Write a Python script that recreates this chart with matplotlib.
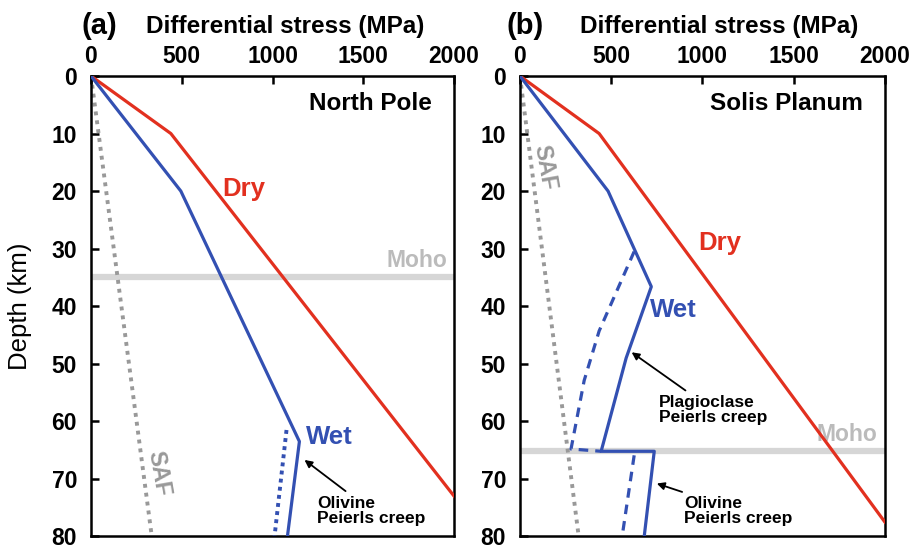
import numpy as np
import matplotlib.pyplot as plt

plt.rcParams['font.family'] = ['Liberation Sans', 'DejaVu Sans']
plt.rcParams['font.weight'] = 'bold'

RED = '#e2301f'
BLUE = '#3350b2'
GRAY = '#999999'
MOHO_C = '#d6d6d6'

# panel (a) North Pole
a_dry_s = [0, 440, 2000]
a_dry_z = [0, 10, 73]
a_wet_s = [0, 495, 1148, 1082]
a_wet_z = [0, 20, 63.5, 80]
a_wetdot_s = [1077, 1011]
a_wetdot_z = [61.5, 80]
a_saf_s = [0, 335]
a_saf_z = [0, 80]
a_moho = 35

# panel (b) Solis Planum
b_dry_s = [0, 434, 2000]
b_dry_z = [0, 10, 77.5]
b_wet_s = [0, 483, 720, 582, 445, 736, 681]
b_wet_z = [0, 20, 36.6, 49, 65.2, 65.2, 80]
b_wetdash_s = [626, 434, 352, 280, 445]
b_wetdash_z = [30.5, 44.3, 52.9, 64.8, 65.2]
b_wetdash2_s = [626, 560]
b_wetdash2_z = [65.9, 80]
b_saf_s = [0, 322]
b_saf_z = [0, 80]
b_moho = 65.2

xticks = [0, 500, 1000, 1500, 2000]
yticks = [0, 10, 20, 30, 40, 50, 60, 70, 80]

fig = plt.figure(figsize=(9.17, 5.49), dpi=100)
axa = fig.add_axes([0.0992, 0.0228, 0.396, 0.8388])
axb = fig.add_axes([0.567, 0.0228, 0.398, 0.8388])

for ax, moho in ((axa, a_moho), (axb, b_moho)):
    ax.set_xlim(0, 2000)
    ax.set_ylim(80, 0)
    ax.xaxis.tick_top()
    ax.set_xticks(xticks)
    ax.set_yticks(yticks)
    ax.tick_params(direction='in', length=6, width=1.8, labelsize=16.5)
    ax.tick_params(axis='x', pad=6)
    ax.tick_params(axis='y', pad=10)
    for s in ax.spines.values():
        s.set_linewidth(1.8)
    ax.axhline(moho, color=MOHO_C, lw=4.5, zorder=1)
    ax.text(1960, moho - 0.9, 'Moho', color='#bbbbbb', fontsize=16.5,
            ha='right', va='bottom')

lw = 2.3
arrow = dict(arrowstyle='-|>', color='black', lw=1.3, mutation_scale=11,
             shrinkA=2, shrinkB=0)
# (a)
axa.plot(a_saf_s, a_saf_z, color=GRAY, lw=2.8, ls=(0, (1, 1.3)), zorder=2)
axa.plot(a_dry_s, a_dry_z, color=RED, lw=lw, zorder=3)
axa.plot(a_wet_s, a_wet_z, color=BLUE, lw=lw, zorder=3)
axa.plot(a_wetdot_s, a_wetdot_z, color=BLUE, lw=2.8, ls=(0, (1, 1.1)), zorder=3)
axa.text(1875, 4.7, 'North Pole', fontsize=17.5, ha='right', va='center')
axa.text(840, 19.7, 'Dry', color=RED, fontsize=18.5, ha='center', va='center')
axa.text(1185, 62.8, 'Wet', color=BLUE, fontsize=18.5, ha='left', va='center')
axa.text(375, 69, 'SAF', color=GRAY, fontsize=16.5, rotation=-80,
         ha='center', va='center')
axa.annotate('Olivine\nPeierls creep', xy=(1176, 66.7), xytext=(1245, 75.5),
             fontsize=12.5, ha='left', va='center', linespacing=1.0,
             arrowprops=arrow)
axa.set_ylabel('Depth (km)', fontsize=18.5)
axa.yaxis.set_label_coords(-0.162, 0.5)

# (b)
axb.plot(b_saf_s, b_saf_z, color=GRAY, lw=2.8, ls=(0, (1, 1.3)), zorder=2)
axb.plot(b_dry_s, b_dry_z, color=RED, lw=lw, zorder=3)
axb.plot(b_wet_s, b_wet_z, color=BLUE, lw=lw, zorder=3)
axb.plot(b_wetdash_s, b_wetdash_z, color=BLUE, lw=lw, ls=(0, (3, 2.2)), zorder=3)
axb.plot(b_wetdash2_s, b_wetdash2_z, color=BLUE, lw=lw, ls=(0, (3, 2.2)), zorder=3)
axb.text(1880, 4.7, 'Solis Planum', fontsize=17.5, ha='right', va='center')
axb.text(1093, 29, 'Dry', color=RED, fontsize=18.5, ha='center', va='center')
axb.text(712, 40.7, 'Wet', color=BLUE, fontsize=18.5, ha='left', va='center')
axb.text(137, 15.8, 'SAF', color=GRAY, fontsize=16.5, rotation=-80,
         ha='center', va='center')
axb.annotate('Plagioclase\nPeierls creep', xy=(612, 48), xytext=(760, 58),
             fontsize=12.5, ha='left', va='center', linespacing=1.0,
             arrowprops=arrow)
axb.annotate('Olivine\nPeierls creep', xy=(750, 70.8), xytext=(900, 75.5),
             fontsize=12.5, ha='left', va='center', linespacing=1.0,
             arrowprops=arrow)

fig.text(285 / 917, 1 - 27 / 549, 'Differential stress (MPa)', fontsize=17.5,
         ha='center', va='center')
fig.text(719 / 917, 1 - 27 / 549, 'Differential stress (MPa)', fontsize=17.5,
         ha='center', va='center')
fig.text(99 / 917, 1 - 26 / 549, '(a)', fontsize=21, ha='center', va='center')
fig.text(525 / 917, 1 - 26 / 549, '(b)', fontsize=21, ha='center', va='center')

fig.savefig('out.png', dpi=100)
